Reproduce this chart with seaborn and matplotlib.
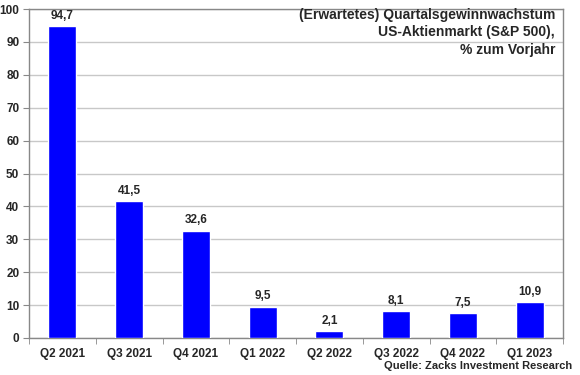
import numpy as np
import pandas as pd
import matplotlib
matplotlib.use("Agg")
import matplotlib.pyplot as plt
import seaborn as sns

# Daten
quartale = ['Q2 2021', 'Q3 2021', 'Q4 2021', 'Q1 2022', 'Q2 2022', 'Q3 2022', 'Q4 2022', 'Q1 2023']
wachstum = [94.7, 41.5, 32.6, 9.5, 2.1, 8.1, 7.5, 10.9]
y_ticks = [0, 10, 20, 30, 40, 50, 60, 70, 80, 90, 100]

df = pd.DataFrame({'quartal': quartale, 'wachstum': wachstum})

sns.set_style("white")
plt.rcParams['font.family'] = ['Liberation Sans', 'DejaVu Sans']
plt.rcParams['font.weight'] = 'bold'

fig = plt.figure(figsize=(5.8, 3.75), dpi=100)
ax = fig.add_axes([29 / 580, 1 - 338 / 375, (563 - 29) / 580, (338 - 9) / 375])

sns.barplot(data=df, x='quartal', y='wachstum', color='#0000FF', saturation=1,
            width=0.42, ax=ax, zorder=3)

ax.set_ylim(0, 100)
ax.set_xlim(-0.5, len(quartale) - 0.5)
ax.set_yticks(y_ticks)
ax.grid(axis='y', color='#c8c8c8', linewidth=1, zorder=0)
ax.set_axisbelow(True)

for s in ax.spines.values():
    s.set_color('#888888')
    s.set_linewidth(1)

ax.set_xlabel('')
ax.set_ylabel('')
ax.tick_params(axis='x', length=0, labelsize=8.5, pad=7)
ax.tick_params(axis='y', length=4, direction='out', color='#888888', labelsize=8.5, pad=3, left=True)
ax.set_xticks(np.arange(-0.5, len(quartale)), minor=True)
ax.tick_params(axis='x', which='minor', length=4, direction='out', color='#888888', bottom=True)
for lab in ax.get_xticklabels() + ax.get_yticklabels():
    lab.set_fontweight('bold')

# Werte über den Balken
for i, v in enumerate(wachstum):
    ax.text(i, v + 1.3, f"{v:.1f}".replace('.', ','), ha='center', va='bottom',
            fontsize=8.5, fontweight='bold')

# Titel rechts oben im Diagramm
ax.text(555 / 580, 1 - 8 / 375, "(Erwartetes) Quartalsgewinnwachstum\nUS-Aktienmarkt (S&P 500),\n% zum Vorjahr",
        transform=fig.transFigure, ha='right', va='top', fontsize=10, fontweight='bold',
        linespacing=1.3)

fig.text(572 / 580, 1 - 366 / 375, "Quelle: Zacks Investment Research", ha='right', va='center',
         fontsize=8, fontweight='bold')

fig.savefig('out.png', dpi=100)
